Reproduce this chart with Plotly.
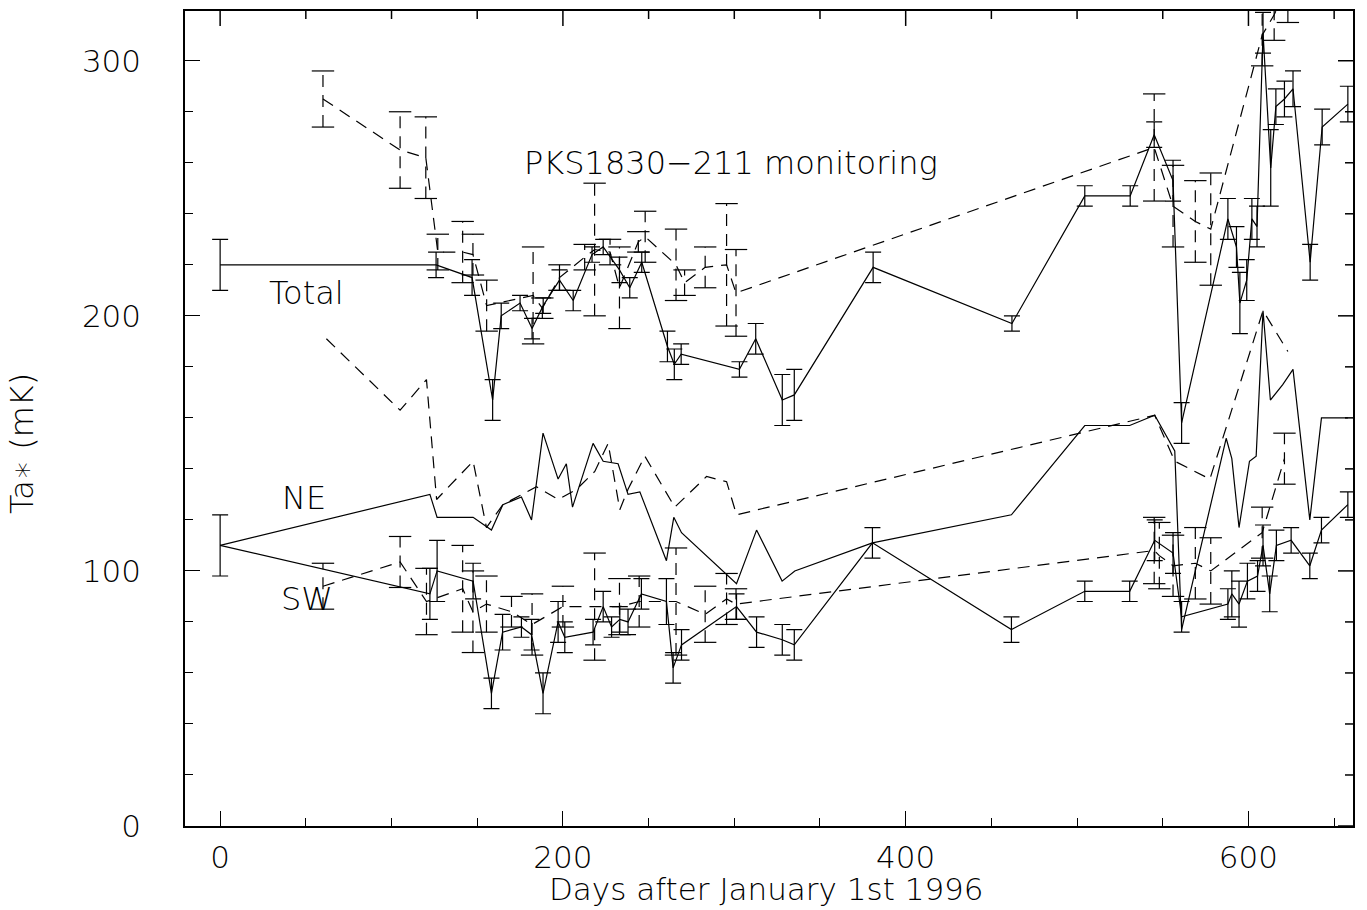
import plotly.graph_objects as go

# ---------------- data ----------------
tot_s_days = [0, 126, 147, 159, 164, 175, 182, 188.5, 198, 206, 217, 223.5, 233, 239, 246,
              261, 265, 269, 303, 312.5, 328, 335, 381, 462, 504.5, 531, 545, 556, 561,
              588, 593, 595, 599, 602, 605, 608.5, 613, 616, 621, 626, 636, 643, 658]
tot_s_val = [220, 220, 215, 167, 200, 205, 195, 204, 214, 206, 224, 227, 218, 211, 221,
             188, 181, 185, 179, 191, 167, 169, 219, 197, 247, 247, 271, 253, 158,
             238, 227, 205, 214, 238, 235, 311, 258, 282, 285, 289, 221, 274, 283]
tot_s_err = [10, 5, 7, 8, 5, 3, 4, 3, 4, 4, 3, 3, 5, 4, 4,
             6, 6, 4, 3, 6, 10, 10, 6, 3, 4, 4, 5, 8, 8,
             8, 8, 12, 8, 8, 8, 8, 15, 7, 7, 7, 7, 7, 7]

tot_d_days = [60, 105, 120, 127, 141.5, 147.5, 155.5, 182.6, 188, 198, 212.7, 218.5, 227.5,
              233, 244, 248, 266, 271, 283, 295.5, 301, 545, 556, 569, 578, 608, 615, 623]
tot_d_val = [285, 265, 262, 225, 225, 224, 204, 208, 203, 215, 223, 226, 225,
             211, 229, 231, 220, 213, 219, 220, 209, 266, 243, 237, 234, 310, 318, 330]
tot_d_err = [11, 15, 16, 7, 12, 8, 10, 19, 4, 5, 5, 26, 5,
             16, 4, 10, 14, 5, 8, 24, 17, 21, 16, 16, 22, 12, 10, 15]

ne_s_days = [0, 122.4, 126.6, 147.6, 158.3, 165, 175.8, 181.7, 188.4, 197.2, 202, 205.6,
             217.6, 223.5, 232.2, 238, 244.9, 260.4, 264.7, 269.2, 301.3, 313, 327.9, 335.3,
             380.6, 461.7, 504.5, 530.7, 545.3, 557, 561, 587, 590.3, 594.5, 600.6, 604.5,
             608.5, 612.8, 620, 626, 635.8, 642.6, 658]
ne_s_val = [110, 130, 121, 121, 116, 126, 129, 120, 154, 136, 142, 125,
            150, 143, 142, 130, 131, 104, 121, 115, 95, 116, 96, 100,
            111, 122, 157, 157, 161, 147, 77, 152, 144, 117, 143, 145,
            202, 167, 173, 179, 120, 160, 160]

ne_d_days = [62, 105, 120.4, 126.3, 147.6, 155.4, 165, 184.6, 197.2, 208, 218.6, 226.4,
             233.2, 238, 247.8, 265.3, 283.8, 295.5, 301.3, 545.3, 557, 577.5, 608.5, 623]
ne_d_val = [191, 163, 175, 128, 143, 117, 126, 133, 128, 132, 139, 150,
            124, 132, 145, 125, 137, 135, 122, 161, 143, 136, 202, 186]

sw_s_days = [0, 122.4, 126.6, 147.6, 158.3, 164.8, 175.8, 181.7, 188.4, 197.2, 201.1,
             217.6, 223.5, 228.4, 233.2, 238, 245.8, 260.4, 264.3, 269.2, 301.3, 313, 328,
             335, 380.6, 461.7, 504.5, 530.7, 545.3, 556, 561, 588, 590.3, 594.5, 599.4,
             605.3, 608.5, 612.4, 616.3, 624.9, 635.8, 642.6, 658]
sw_s_val = [110, 91, 100, 96, 52, 76, 78, 75, 52, 80, 74,
            76, 86, 78, 81, 80, 91, 88, 62, 71, 86, 76, 73,
            71, 111, 77, 92, 92, 112, 107, 82, 87, 91, 87, 96,
            98, 110, 91, 110, 112, 102, 116, 126]
sw_s_err = [12, 10, 12, 7, 6, 7, 4, 6, 8, 8, 6,
            5, 6, 4, 5, 5, 6, 9, 6, 6, 5, 6, 6,
            6, 6, 5, 4, 4, 8, 8, 6, 6, 9, 9, 7,
            6, 8, 7, 6, 5, 5, 5, 5]

sw_d_days = [60, 105, 120.4, 141.5, 147.5, 155.4, 170, 182, 200, 218.5, 233, 244.5,
             266, 283, 295.5, 301, 545, 548, 556, 569, 578, 608, 621]
sw_d_val = [94, 103.5, 88, 93, 84, 87, 84, 79, 86, 86, 86, 88,
            88, 83, 89, 87, 108, 106, 102, 103, 100, 115, 144]
sw_d_err = [9, 10, 13, 17, 16, 11, 6, 12, 8, 21, 11, 10,
            21, 11, 10, 6, 13, 13, 12, 14, 13, 10, 10]

x_ticks = [0, 200, 400, 600]
y_ticks = [0, 100, 200, 300]
x_minor_step = 50
y_minor_step = 20
x_title = "Days after January 1st 1996"
y_title = "Ta\u2217 (mK)"
title_text = "PKS1830\u2212211 monitoring"
labels = ["Total", "NE", "SW"]

# ---------------- styling ----------------
FONT = "DejaVu Sans"
LW = 1.2
DASH = "12px,8px"
CAP = 8
X_RANGE = [-20.5, 661]
Y_RANGE = [0, 319.5]
MAJ_LEN = 15
MIN_LEN = 8
W, H = 1367, 910
M = dict(l=185, r=14, t=9, b=84)

fig = go.Figure()


def add_solid(d, v, e=None):
    tr = go.Scatter(x=d, y=v, mode="lines", line=dict(color="black", width=LW),
                    hoverinfo="skip", showlegend=False)
    if e is not None:
        tr.error_y = dict(type="data", array=e, visible=True, color="black",
                          thickness=LW, width=CAP)
    fig.add_trace(tr)


def add_dashed(d, v, e=None):
    fig.add_trace(go.Scatter(x=d, y=v, mode="lines",
                             line=dict(color="black", width=LW, dash=DASH),
                             hoverinfo="skip", showlegend=False))
    if e is not None:
        xs, ys, cx, cy = [], [], [], []
        for di, vi, ei in zip(d, v, e):
            xs += [di, di, None]
            ys += [vi - ei, vi + ei, None]
            cx += [di, di]
            cy += [vi - ei, vi + ei]
        fig.add_trace(go.Scatter(x=xs, y=ys, mode="lines",
                                 line=dict(color="black", width=LW, dash=DASH),
                                 hoverinfo="skip", showlegend=False))
        fig.add_trace(go.Scatter(x=cx, y=cy, mode="markers",
                                 marker=dict(symbol="line-ew", size=2 * CAP,
                                             line=dict(color="black", width=LW)),
                                 hoverinfo="skip", showlegend=False))


add_solid(tot_s_days, tot_s_val, tot_s_err)
add_dashed(tot_d_days, tot_d_val, tot_d_err)
add_solid(ne_s_days, ne_s_val)
add_dashed(ne_d_days, ne_d_val)
add_solid(sw_s_days, sw_s_val, sw_s_err)
add_dashed(sw_d_days, sw_d_val, sw_d_err)

# mirrored tick marks on the top and right frame edges (axis decoration)
plot_w = W - M["l"] - M["r"]
plot_h = H - M["t"] - M["b"]
x_per_px = (X_RANGE[1] - X_RANGE[0]) / plot_w
y_per_px = (Y_RANGE[1] - Y_RANGE[0]) / plot_h
mx, my = [], []
for xv in range(0, int(X_RANGE[1]) + 1, x_minor_step):
    ln = MAJ_LEN if xv in x_ticks else MIN_LEN
    mx += [xv, xv, None]
    my += [Y_RANGE[1], Y_RANGE[1] - ln * y_per_px, None]
for yv in range(0, int(Y_RANGE[1]) + 1, y_minor_step):
    ln = MAJ_LEN if yv in y_ticks else MIN_LEN
    mx += [X_RANGE[1], X_RANGE[1] - ln * x_per_px, None]
    my += [yv, yv, None]
fig.add_trace(go.Scatter(x=mx, y=my, mode="lines",
                         line=dict(color="black", width=1.5),
                         hoverinfo="skip", showlegend=False))

tf = dict(family=FONT, size=31, color="black", weight=200)
big = dict(family=FONT, size=32, color="black", weight=200)

tick_common = dict(ticks="inside", ticklen=MAJ_LEN, tickwidth=LW, tickcolor="black",
                   showgrid=False, zeroline=False)

fig.update_layout(
    width=W, height=H,
    margin=M,
    paper_bgcolor="white", plot_bgcolor="white",
    showlegend=False,
    xaxis=dict(range=X_RANGE, tickvals=x_ticks, showline=True, linecolor="black",
               linewidth=1.5, mirror=True, tickfont=tf, ticklabelstandoff=3,
               minor=dict(dtick=x_minor_step, tick0=0, ticks="inside", ticklen=MIN_LEN,
                          tickwidth=LW, tickcolor="black", showgrid=False),
               **tick_common),
    yaxis=dict(range=Y_RANGE, tickvals=y_ticks, showline=True, linecolor="black",
               linewidth=1.5, mirror=True, tickfont=tf, ticklabelstandoff=36,
               minor=dict(dtick=y_minor_step, tick0=0, ticks="inside", ticklen=MIN_LEN,
                          tickwidth=LW, tickcolor="black", showgrid=False),
               **tick_common),
)

ann = [
    dict(text=title_text, x=298, y=260),
    dict(text=labels[0], x=50.6, y=209),
    dict(text=labels[1], x=49, y=128.5),
    dict(text=labels[2], x=50.6, y=89),
]
for a in ann:
    fig.add_annotation(text=a["text"], x=a["x"], y=a["y"], xref="x", yref="y",
                       showarrow=False, font=big, xanchor="center", yanchor="middle")

fig.add_annotation(text=x_title, xref="paper", yref="paper", x=0.498, y=-0.102,
                   showarrow=False, font=dict(big, size=31), xanchor="center",
                   yanchor="bottom")
fig.add_annotation(text=y_title, xref="paper", yref="paper", x=-0.1396, y=0.47,
                   showarrow=False, font=big, xanchor="center", yanchor="middle",
                   textangle=-90)

fig.write_html("out.html")
